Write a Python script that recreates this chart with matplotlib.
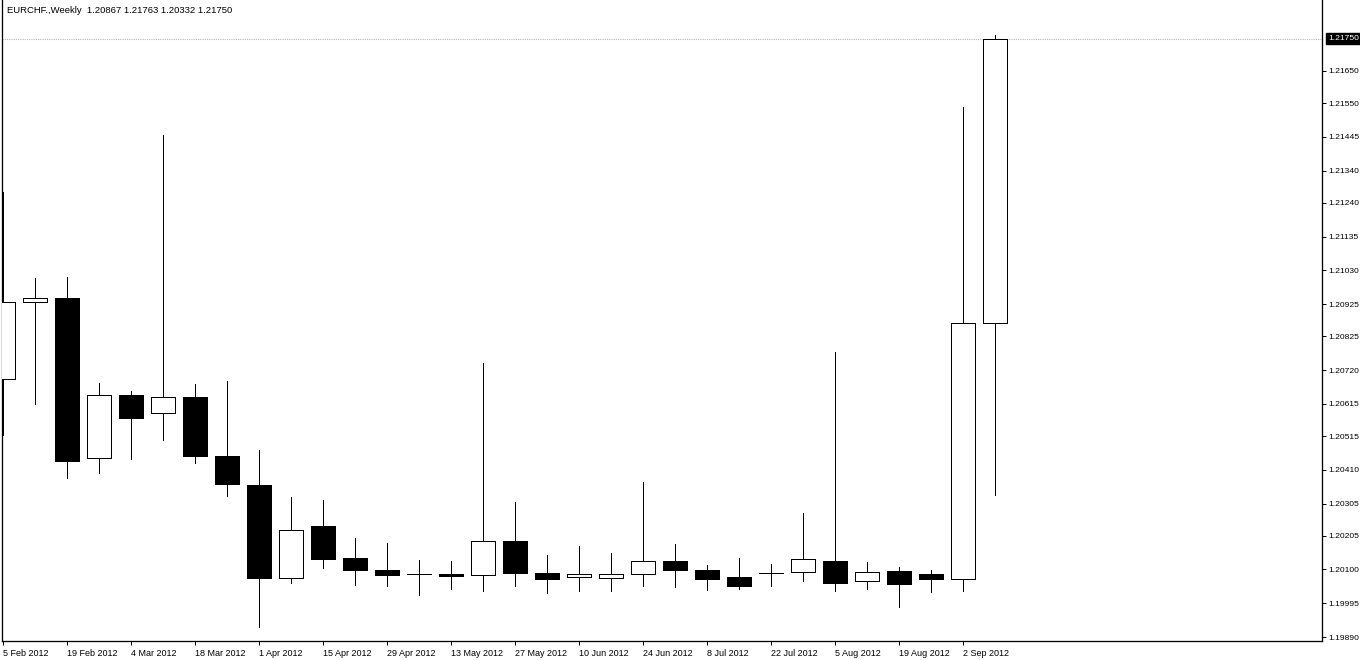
from matplotlib import pyplot as plt
import numpy as np

# weekly EURCHF candles, first week = 5 Feb 2012
opens = [1.20692, 1.20932, 1.20944, 1.20447, 1.20642, 1.20587, 1.20636, 1.20453,
         1.20363, 1.20074, 1.20235, 1.20136, 1.20098, 1.20086, 1.20086, 1.20083,
         1.20189, 1.20089, 1.20077, 1.20073, 1.20086, 1.20126, 1.20098, 1.20077,
         1.20089, 1.20092, 1.20126, 1.20064, 1.20095, 1.20086, 1.20070, 1.20867]
highs = [1.21274, 1.21006, 1.21009, 1.20680, 1.20655, 1.21451, 1.20677, 1.20686,
         1.20471, 1.20325, 1.20316, 1.20198, 1.20182, 1.20129, 1.20126, 1.20742,
         1.20310, 1.20145, 1.20173, 1.20151, 1.20372, 1.20179, 1.20114, 1.20136,
         1.20117, 1.20276, 1.20776, 1.20123, 1.20108, 1.20098, 1.21538, 1.21763]
lows = [1.20518, 1.20615, 1.20384, 1.20400, 1.20444, 1.20503, 1.20431, 1.20328,
        1.19921, 1.20058, 1.20105, 1.20052, 1.20049, 1.20021, 1.20039, 1.20033,
        1.20049, 1.20027, 1.20033, 1.20033, 1.20049, 1.20046, 1.20036, 1.20039,
        1.20049, 1.20064, 1.20033, 1.20039, 1.19983, 1.20030, 1.20033, 1.20332]
closes = [1.20932, 1.20944, 1.20437, 1.20642, 1.20571, 1.20636, 1.20453, 1.20366,
          1.20074, 1.20223, 1.20133, 1.20098, 1.20083, 1.20086, 1.20080, 1.20189,
          1.20089, 1.20070, 1.20086, 1.20086, 1.20126, 1.20098, 1.20070, 1.20049,
          1.20089, 1.20133, 1.20058, 1.20092, 1.20055, 1.20070, 1.20867, 1.21750]

date_labels = ["5 Feb 2012", "19 Feb 2012", "4 Mar 2012", "18 Mar 2012", "1 Apr 2012",
               "15 Apr 2012", "29 Apr 2012", "13 May 2012", "27 May 2012", "10 Jun 2012",
               "24 Jun 2012", "8 Jul 2012", "22 Jul 2012", "5 Aug 2012", "19 Aug 2012",
               "2 Sep 2012"]
price_ticks = [1.21650, 1.21550, 1.21445, 1.21340, 1.21240, 1.21135, 1.21030, 1.20925,
               1.20825, 1.20720, 1.20615, 1.20515, 1.20410, 1.20305, 1.20205, 1.20100,
               1.19995, 1.19890]
header = "EURCHF.,Weekly  1.20867 1.21763 1.20332 1.21750"

plt.rcParams['font.family'] = ['Liberation Sans', 'DejaVu Sans']
px = 0.72  # one pixel in points at dpi 100

fig = plt.figure(figsize=(13.6, 6.6), dpi=100)
ax = fig.add_axes([2 / 1360, 19 / 660, 1320 / 1360, 641 / 660])

x = np.arange(len(opens))
o = np.array(opens)
c = np.array(closes)
ax.vlines(x, lows, highs, color="black", lw=px, zorder=2, antialiased=False)
colors = ["white" if cc >= oo else "black" for oo, cc in zip(o, c)]
ax.bar(x, c - o, bottom=o, width=0.75, color=colors, edgecolor="black",
       linewidth=px, zorder=3, antialiased=False)

last = closes[-1]
ax.axhline(last, color="#b8b8b8", lw=0.8, ls=(0, (1, 1)), zorder=1)

ax.set_xlim(-0.03125, 41.21875)
ax.set_ylim(1.198776, 1.218707)

ax.yaxis.tick_right()
ax.set_yticks(price_ticks)
ax.set_yticklabels(["%.5f" % v for v in price_ticks])
ax.set_xticks(np.arange(0, 32, 2))
ax.set_xticklabels(date_labels, ha="left")
ax.tick_params(axis="both", length=3, width=px, colors="black")
ax.tick_params(axis="y", pad=1.5, labelsize=6.1)
ax.tick_params(axis="x", pad=2.5, labelsize=6.5)

for side in ["left", "right", "bottom"]:
    ax.spines[side].set_linewidth(px * 1.3)
    ax.spines[side].set_color("black")
ax.spines["top"].set_visible(False)

ax.annotate("%.5f" % last, xy=(1.0, last), xycoords=ax.get_yaxis_transform(),
            xytext=(4.5, 0), textcoords="offset points",
            ha="left", va="center", color="white", fontsize=6.1, annotation_clip=False,
            bbox=dict(boxstyle="square,pad=0.25", facecolor="black", edgecolor="black"))

fig.text(7 / 1360, 1 - 10.5 / 660, header, ha="left", va="center", fontsize=6.8)

plt.savefig("out.png")
